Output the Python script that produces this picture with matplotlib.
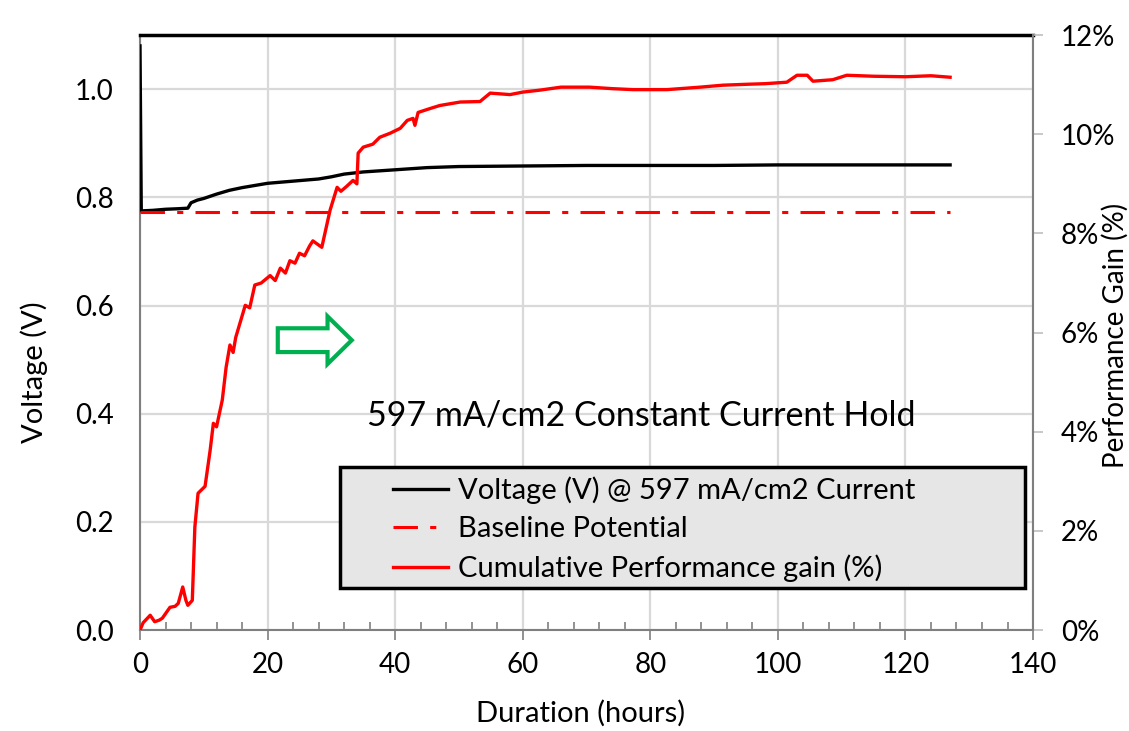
import numpy as np
import matplotlib
matplotlib.use('Agg')
import matplotlib.pyplot as plt
import matplotlib.patches as mpatches
from matplotlib.ticker import MultipleLocator, FuncFormatter

plt.rcParams['font.family'] = ['Lato', 'DejaVu Sans']

# voltage at 597 mA/cm2 (left axis, V)
volt_t = [0, 0.2, 2, 4, 6, 7.5, 8, 9, 10, 12, 14, 16, 18, 20, 23, 26, 28, 30, 32, 35,
          40, 45, 50, 60, 70, 80, 90, 100, 110, 120, 127]
volt_v = [1.08, 0.775, 0.776, 0.778, 0.779, 0.780, 0.790, 0.795, 0.798, 0.806, 0.813, 0.818,
          0.822, 0.826, 0.829, 0.832, 0.834, 0.838, 0.843, 0.847, 0.851, 0.855, 0.857, 0.858,
          0.859, 0.859, 0.859, 0.860, 0.860, 0.860, 0.860]

# baseline potential
base_t = [0, 127]
base_v = [0.773, 0.773]

# cumulative performance gain (right axis, %)
gain_t = [0, 0.5, 1.6, 2.3, 3, 3.5, 4.7, 5.5, 6, 6.7, 7.2, 7.5, 8.2, 8.6, 9.1, 10.2, 11, 11.5,
          12, 12.9, 13.5, 14.1, 14.6, 15, 16.5, 17.2, 18, 19, 20.4, 21.2, 22, 22.8, 23.5, 24.3,
          25, 25.8, 26.6, 27.1, 28.5, 29.8, 30.9, 31.5, 32.4, 33.4, 34, 34.2, 35, 36.5, 37.6,
          39.2, 40.8, 41.9, 42.8, 43.1, 43.6, 45.5, 47, 50.2, 53.3, 54.9, 58, 60, 62.7, 66, 70.5,
          74, 77.3, 82.6, 87.8, 91.4, 95.6, 98, 101.4, 103, 104.6, 105.5, 108.6, 110.8, 115,
          120, 124, 127]
gain = [0, 0.15, 0.3, 0.17, 0.2, 0.24, 0.46, 0.48, 0.54, 0.87, 0.6, 0.5, 0.6, 2.08, 2.76, 2.9,
        3.63, 4.17, 4.1, 4.64, 5.3, 5.75, 5.6, 5.9, 6.55, 6.5, 6.96, 7.0, 7.15, 7.05, 7.3, 7.2,
        7.45, 7.4, 7.6, 7.55, 7.75, 7.85, 7.72, 8.47, 8.93, 8.85, 8.95, 9.07, 9.0, 9.62, 9.74,
        9.8, 9.94, 10.02, 10.12, 10.28, 10.32, 10.18, 10.44, 10.52, 10.58, 10.65, 10.66, 10.83,
        10.8, 10.85, 10.89, 10.95, 10.95, 10.92, 10.9, 10.9, 10.95, 10.99, 11.01, 11.02, 11.05,
        11.19, 11.19, 11.07, 11.1, 11.19, 11.17, 11.16, 11.18, 11.15]

labels = ['Voltage (V) @ 597 mA/cm2 Current', 'Baseline Potential',
          'Cumulative Performance gain (%)']

fig = plt.figure(figsize=(11.29, 7.31), dpi=100)
ax = fig.add_axes([0.124, 0.138, 0.791, 0.814])
ax2 = ax.twinx()

grid_c = '#d9d9d9'
axis_c = '#7f7f7f'

l1, = ax.plot(volt_t, volt_v, color='black', lw=2.4, zorder=3)
l2, = ax.plot(base_t, base_v, color='red', lw=2.2, dashes=[8, 4, 2, 4], zorder=3)
l3, = ax2.plot(gain_t, gain, color='red', lw=2.4, zorder=3)

ax.set_xlim(0, 140)
ax.set_ylim(0, 1.1)
ax2.set_ylim(0, 12)

ax.xaxis.set_major_locator(MultipleLocator(20))
ax.xaxis.set_minor_locator(MultipleLocator(4))
ax.set_yticks([0, 0.2, 0.4, 0.6, 0.8, 1.0])
ax.yaxis.set_major_formatter(FuncFormatter(lambda v, p: f'{v:.1f}'))
ax2.set_yticks([0, 2, 4, 6, 8, 10, 12])
ax2.yaxis.set_major_formatter(FuncFormatter(lambda v, p: f'{v:.0f}%'))

ax.grid(True, which='major', color=grid_c, lw=1.6, zorder=0)
ax.set_axisbelow(True)

ax.tick_params(axis='x', which='major', direction='out', length=7, width=1.2, color=axis_c,
               labelsize=20, pad=9)
ax.tick_params(axis='x', which='minor', direction='in', length=6, width=1.2, color=axis_c)
ax.tick_params(axis='y', length=0, labelsize=20, pad=19)
ax2.tick_params(axis='y', direction='out', length=7, width=1.2, color='#bfbfbf',
                labelsize=20, pad=13)

for s in ['left', 'bottom']:
    ax.spines[s].set_color(axis_c)
    ax.spines[s].set_linewidth(1.5)
ax.spines['right'].set_visible(False)
ax.spines['top'].set_color('black')
ax.spines['top'].set_linewidth(2.5)
for s in ['left', 'bottom', 'top']:
    ax2.spines[s].set_visible(False)
ax2.spines['right'].set_color(axis_c)
ax2.spines['right'].set_linewidth(1.5)

ax.set_xlabel('Duration (hours)', fontsize=21)
ax.xaxis.set_label_coords(0.493, -0.118)
ax.set_ylabel('Voltage (V)', fontsize=21)
ax.yaxis.set_label_coords(-0.103, 0.434)
ax2.set_ylabel('Performance Gain (%)', fontsize=20, rotation=90)
ax2.yaxis.set_label_coords(1.077, 0.496)

ax2.text(0.561, 0.361, '597 mA/cm2 Constant Current Hold', transform=ax2.transAxes,
         ha='center', va='center', fontsize=24.5)

# hollow green arrow
arrow = mpatches.FancyArrow(21.6, 0.536, 11.6, 0, width=0.044, head_width=0.088,
                            head_length=3.8, length_includes_head=True,
                            fc='white', ec='#00B050', lw=3, zorder=5)
ax.add_patch(arrow)

# legend box
box = mpatches.Rectangle((0.224, 0.071), 0.767, 0.203, transform=ax2.transAxes,
                         fc='#e6e6e6', ec='black', lw=2.5, zorder=6)
ax2.add_patch(box)
leg = ax2.legend([l1, l2, l3], labels, loc='center left', bbox_to_anchor=(0.283, 0.170),
                 frameon=False, fontsize=21, handlelength=1.9, handletextpad=0.35,
                 labelspacing=0.42, borderaxespad=0, borderpad=0)
leg.set_zorder(7)

fig.savefig('out.png', dpi=100)
